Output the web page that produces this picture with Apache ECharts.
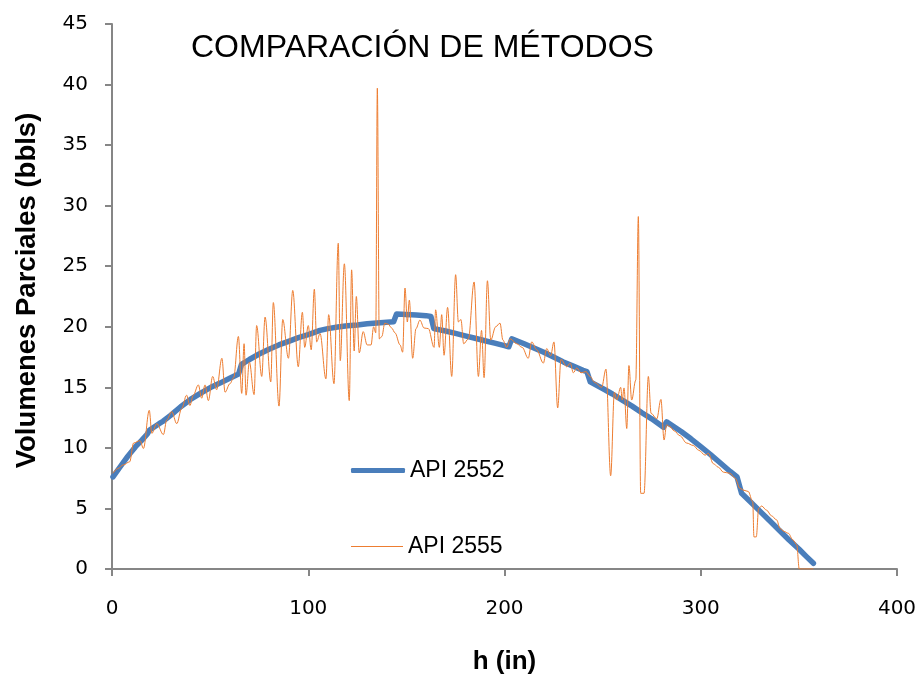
<!DOCTYPE html>
<html>
<head>
<meta charset="utf-8">
<script src="https://cdn.jsdelivr.net/npm/echarts@6/dist/echarts.min.js"></script>
<style>
  html, body { margin: 0; padding: 0; background: #ffffff; }
  #chart { width: 921px; height: 675px; }
</style>
</head>
<body>
<div id="chart"></div>
<script>
// ---- data (h in inches, partial volumes in bbls) ----
const chartTitle = 'COMPARACIÓN DE MÉTODOS';
const xAxisTitle = 'h (in)';
const yAxisTitle = 'Volumenes Parciales (bbls)';
const seriesNames = ['API 2552', 'API 2555'];

const api2552 = [
  [0.5, 7.6], [4, 8.4], [8, 9.3], [12, 10.1], [15, 10.6], [18, 11.15], [19, 11.45],
  [24, 12.0], [26, 12.2], [30, 12.7], [35, 13.4], [40, 14.0], [45, 14.5], [51, 15.05],
  [55, 15.35], [60, 15.75], [64.5, 16.1], [66, 16.9], [70, 17.3], [75, 17.75], [80, 18.15],
  [85, 18.5], [90, 18.8], [95, 19.1], [100, 19.35], [106, 19.7], [110, 19.85], [115, 19.98],
  [120, 20.08], [125, 20.15], [130, 20.25], [135, 20.32], [140, 20.38], [143.5, 20.42],
  [145, 21.05], [150, 21.02], [155, 20.98], [160, 20.92], [162.5, 20.85], [164, 19.85],
  [170, 19.65], [175, 19.45], [180, 19.25], [185, 19.05], [190, 18.85], [195, 18.65],
  [200, 18.45], [202.2, 18.35], [203.7, 19.0], [210, 18.6], [215, 18.25], [220, 17.9],
  [225, 17.5], [230, 17.1], [235, 16.75], [240, 16.4], [242, 16.3], [243.7, 15.45],
  [250, 14.9], [255, 14.45], [260, 13.95], [265, 13.45], [270, 12.9], [275, 12.4],
  [281, 11.7], [282.6, 12.15], [290, 11.35], [295, 10.75], [300, 10.1], [305, 9.45],
  [310, 8.75], [315, 8.05], [318.5, 7.6], [320.8, 6.25], [325, 5.6], [330, 4.8],
  [335, 4.0], [340, 3.2], [345, 2.4], [350, 1.65], [354, 1.0], [357.4, 0.47]
];

const api2555 = [
  [0.5, 7.9], [3, 8.3], [5.8, 8.6], [9, 8.85], [11, 10.4], [14.3, 10.6], [16, 9.95],
  [19, 13.1], [20.3, 11.2], [22.8, 12.0], [26.2, 11.1], [27.9, 12.3], [30.4, 13.0],
  [33, 12.0], [35.5, 13.25], [38, 14.35], [39.7, 13.5], [41.4, 14.35], [44, 15.2],
  [45.7, 14.1], [47.4, 15.2], [49.1, 13.9], [51.3, 15.9], [53.3, 14.8], [56, 17.4],
  [57.6, 14.6], [60.1, 15.3], [62, 15.8], [64.4, 19.2], [66.1, 14.5], [67.3, 18.6],
  [68.3, 14.35], [70, 17.1], [72.4, 14.4], [73.7, 20.1], [76.3, 15.9], [78, 20.8],
  [80.9, 15.45], [82.2, 22.0], [85.1, 13.45], [87, 20.6], [89.9, 17.4], [92.1, 23.0],
  [94.9, 16.7], [97, 21.2], [98.2, 18.3], [100, 20.1], [101.5, 18.1], [103.1, 23.1],
  [104.3, 18.75], [106, 19.45], [109, 15.7], [110.4, 21.0], [113.1, 15.3], [115.3, 26.9],
  [116.3, 17.2], [118.4, 25.2], [120.9, 13.9], [122.1, 24.7], [123.4, 18.0], [124.5, 22.5],
  [126, 17.85], [128, 19.6], [130, 18.5], [132, 18.5], [133.3, 20.0], [134.4, 19.5],
  [135.2, 39.7], [136.2, 19.0], [137.5, 19.2], [139, 20.3], [140.8, 20.2], [142.5, 19.9],
  [144.2, 19.5], [146.8, 18.5], [148.1, 17.9], [149.3, 23.2], [150.5, 20.4], [151.5, 22.2],
  [153.2, 17.4], [154.9, 19.85], [156.9, 20.55], [159, 19.9], [161.2, 19.85], [164.1, 18.3],
  [164.9, 21.4], [166.8, 18.3], [168, 21.0], [169.2, 17.65], [171, 21.6], [173.1, 15.9],
  [175.1, 24.3], [176.5, 20.4], [177.8, 20.6], [179.2, 18.6], [181.6, 19.0], [184.5, 23.7],
  [186.7, 15.9], [188.3, 19.7], [189.6, 15.8], [191.3, 23.8], [193, 18.9], [195.5, 20.0],
  [197.7, 20.3], [199.2, 18.9], [201.1, 18.3], [203, 19.0], [206.2, 18.6], [209, 18.3],
  [212.1, 17.4], [213.9, 18.75], [216.4, 18.1], [219.8, 17.0], [221.5, 18.2], [223.5, 17.6],
  [225.2, 18.75], [227.1, 13.3], [228.8, 17.3], [231.7, 16.7], [233.5, 17.0], [235.1, 16.2],
  [236.8, 16.6], [239, 16.2], [241.5, 16.3], [243.6, 15.9], [246, 15.4], [249.5, 15.0],
  [251.7, 16.5], [254.1, 7.7], [256, 14.6], [257.2, 13.95], [259.2, 15.0], [260, 13.95],
  [260.9, 14.95], [262.3, 11.6], [263.4, 16.8], [264.8, 13.95], [266.9, 15.6], [268.2, 29.1],
  [269.4, 6.25], [271.1, 6.25], [273.3, 15.9], [274.7, 12.85], [277.6, 12.4], [279.7, 14.0],
  [281.3, 10.65], [282.6, 11.9], [284.3, 11.75], [286.5, 11.4], [289.4, 11.0], [292.8, 10.4],
  [296.2, 10.2], [299, 9.8], [302.2, 9.4], [303.9, 9.55], [306.4, 8.7], [309, 8.4],
  [311.5, 8.0], [314.9, 7.9], [317.5, 7.5], [320, 6.65], [322, 6.5], [324.2, 6.4],
  [326.5, 5.55], [327.1, 2.65], [328.3, 2.65], [329.5, 5.0], [331, 5.2], [333.6, 4.85],
  [336, 4.4], [338.7, 4.05], [340.4, 3.35], [342.5, 3.1], [344.6, 2.95], [347, 2.4],
  [348.9, 2.0], [350.2, 0], [357.4, 0]
];

const xMin = 0, xMax = 400, xStep = 100;
const yMin = 0, yMax = 45, yStep = 5;

// ---- chart ----
const chart = echarts.init(document.getElementById('chart'), null, { renderer: 'canvas' });
const axisGray = '#868686';
const tickFont = { fontFamily: 'DejaVu Sans', fontSize: 20, color: '#000000' };
const legendText = { fontFamily: 'Liberation Sans', fontSize: 23, color: '#000000' };

chart.setOption({
  animation: false,
  backgroundColor: '#ffffff',
  title: {
    text: chartTitle,
    left: 191,
    top: 32,
    padding: 0,
    textStyle: { fontFamily: 'Liberation Sans', fontSize: 32, fontWeight: 'normal', color: '#000000' }
  },
  grid: { left: 112, right: 24, top: 24, bottom: 106, containLabel: false, outerBoundsMode: 'none' },
  legend: [
    {
      data: [{ name: seriesNames[0], icon: 'roundRect' }], left: 351, top: 459, orient: 'vertical',
      itemWidth: 54, itemHeight: 5, padding: 0, textStyle: legendText
    },
    {
      data: [{ name: seriesNames[1], icon: 'rect' }], left: 351, top: 535, orient: 'vertical',
      itemWidth: 52, itemHeight: 1, padding: 0, textStyle: legendText
    }
  ],
  xAxis: {
    type: 'value', min: xMin, max: xMax, interval: xStep,
    name: xAxisTitle, nameLocation: 'middle', nameGap: 80,
    nameTextStyle: { fontFamily: 'Liberation Sans', fontSize: 26, fontWeight: 'bold', color: '#000000' },
    axisLine: { show: true, onZero: false, lineStyle: { color: axisGray, width: 2 } },
    axisTick: { show: true, inside: false, length: 7, lineStyle: { color: axisGray, width: 2 } },
    axisLabel: Object.assign({ margin: 30 }, tickFont),
    splitLine: { show: false }
  },
  yAxis: {
    type: 'value', min: yMin, max: yMax, interval: yStep,
    name: yAxisTitle, nameLocation: 'middle', nameGap: 71, nameRotate: 90,
    nameTextStyle: {
      fontFamily: 'Liberation Sans', fontSize: 27.5, fontWeight: 'bold', color: '#000000',
      padding: [0, 0, 0, 12]
    },
    axisLine: { show: true, onZero: false, lineStyle: { color: axisGray, width: 2 } },
    axisTick: { show: true, inside: false, length: 7, lineStyle: { color: axisGray, width: 2 } },
    axisLabel: Object.assign({ margin: 24 }, tickFont),
    splitLine: { show: false }
  },
  series: [
    {
      name: seriesNames[0], type: 'line', data: api2552,
      showSymbol: false, symbol: 'none', smooth: false,
      lineStyle: { color: '#4A7EBB', width: 5.5, cap: 'round', join: 'round' },
      itemStyle: { color: '#4A7EBB' },
      z: 2
    },
    {
      name: seriesNames[1], type: 'line', data: api2555,
      showSymbol: false, symbol: 'none', smooth: 0.35, smoothMonotone: 'x',
      lineStyle: { color: '#ED7D31', width: 1 },
      itemStyle: { color: '#ED7D31' },
      z: 3
    }
  ]
});
</script>
</body>
</html>
